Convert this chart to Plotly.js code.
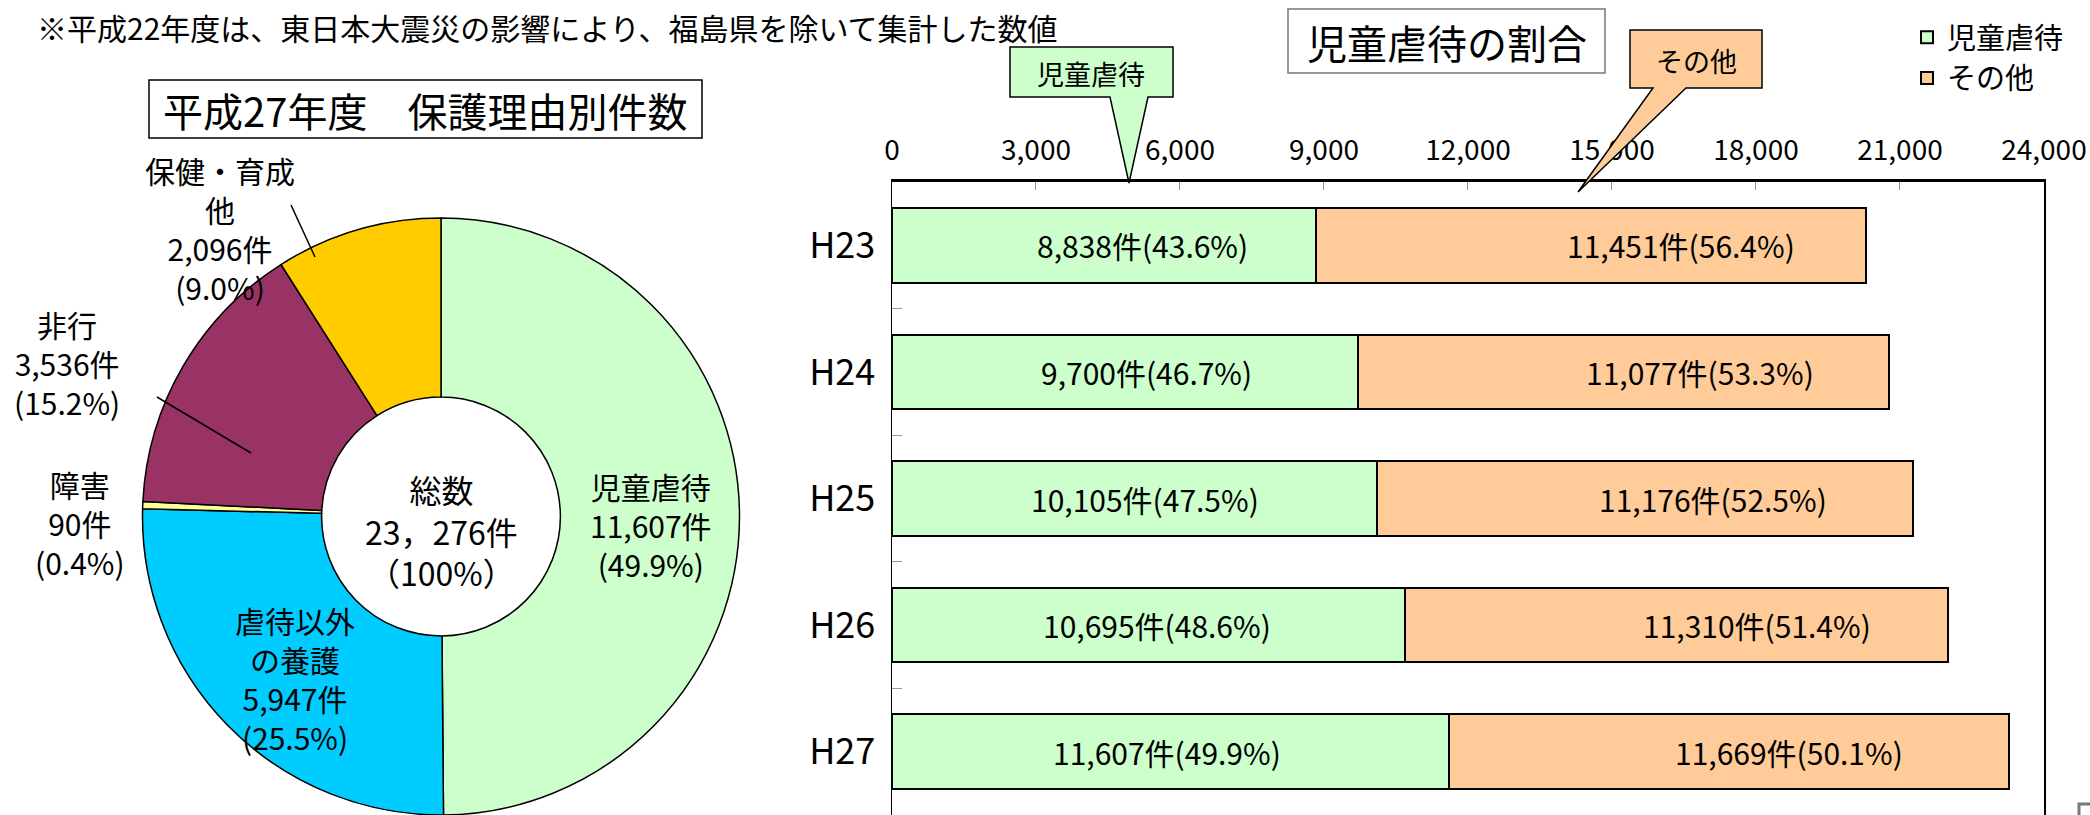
<!DOCTYPE html>
<html><head><meta charset="utf-8">
<script src="https://cdn.plot.ly/plotly-3.0.1.min.js"></script>
<style>html,body{margin:0;padding:0;background:#fff}#chart{width:2090px;height:815px}</style>
</head><body><div id="chart"></div>
<script>
// ---- data ----
const pieCategories = ['児童虐待', '虐待以外の養護', '障害', '非行', '保健・育成他'];
const pieDisplay = ['児童虐待', '虐待以外<br>の養護', '障害', '非行', '保健・育成<br>他'];
const pieValues = [11607, 5947, 90, 3536, 2096];
const piePercents = [49.9, 25.5, 0.4, 15.2, 9.0];
const pieTotal = '23，276件';
const pieTotalPct = '（100%）';

const years = ['H23', 'H24', 'H25', 'H26', 'H27'];
const abuseCounts = [8838, 9700, 10105, 10695, 11607];
const otherCounts = [11451, 11077, 11176, 11310, 11669];
const abusePercents = [43.6, 46.7, 47.5, 48.6, 49.9];
const otherPercents = [56.4, 53.3, 52.5, 51.4, 50.1];
const seriesNames = ['児童虐待', 'その他'];
const xTicks = [0, 3000, 6000, 9000, 12000, 15000, 18000, 21000, 24000];
const xTickLabels = ['0', '3,000', '6,000', '9,000', '12,000', '15,000', '18,000', '21,000', '24,000'];

// ---- styling ----
const W = 2090, H = 815;
const px = x => x / W;
const py = y => 1 - y / H;
const CJK = '"Noto Sans CJK JP", sans-serif';
const NARROW = '"Liberation Sans Narrow", "Arial Narrow", "Noto Sans CJK JP", sans-serif';
const pieColors = ['#CCFFCC', '#00CCFF', '#FFFF99', '#993366', '#FFCC00'];
const barColors = ['#CCFFCC', '#FFCC99'];
const pieLabelPos = [[651, 525], [295, 678], [80, 523], [67, 363], [220, 229]];
const abuseShift = [803, 456, 226, 180, -81];
const otherShift = [1881, 1595, 1418, 1678, 1253];

const fmt = v => v.toLocaleString('en-US');

const traces = [
  {
    type: 'pie', labels: pieCategories, values: pieValues, sort: false,
    direction: 'clockwise', rotation: 0, hole: 0.4, textinfo: 'none',
    marker: {colors: pieColors, line: {color: '#000', width: 1.5}},
    domain: {x: [px(142), px(740)], y: [0, py(218)]}, showlegend: false, hoverinfo: 'none'
  },
  {
    type: 'bar', orientation: 'h', name: seriesNames[0], y: years, x: abuseCounts, legendgroup: 'a',
    marker: {color: barColors[0], line: {color: '#000', width: 2}}, xaxis: 'x', yaxis: 'y'
  },
  {
    type: 'bar', orientation: 'h', name: seriesNames[1], y: years, x: otherCounts, legendgroup: 'b',
    marker: {color: barColors[1], line: {color: '#000', width: 2}}, xaxis: 'x', yaxis: 'y'
  }
];

const annotations = [];
// pie labels
pieCategories.forEach((c, i) => {
  annotations.push({
    xref: 'paper', yref: 'paper', x: px(pieLabelPos[i][0]), y: py(pieLabelPos[i][1]),
    xanchor: 'center', yanchor: 'middle', showarrow: false, align: 'center',
    text: pieDisplay[i] + '<br>' + fmt(pieValues[i]) + '件<br>(' + piePercents[i].toFixed(1) + '%)',
    font: {family: NARROW, size: 30, color: '#000'}
  });
});
// donut centre
annotations.push({
  xref: 'paper', yref: 'paper', x: px(441), y: py(530), xanchor: 'center', yanchor: 'middle',
  showarrow: false, align: 'center', text: '総数<br>' + pieTotal + '<br>' + pieTotalPct,
  font: {family: CJK, size: 32, color: '#000'}
});
// bar labels
years.forEach((yr, i) => {
  annotations.push({
    xref: 'x', yref: 'y', x: abuseCounts[i] / 2 + abuseShift[i], y: yr, showarrow: false,
    text: fmt(abuseCounts[i]) + '件(' + abusePercents[i].toFixed(1) + '%)',
    font: {family: NARROW, size: 30, color: '#000'}
  });
  annotations.push({
    xref: 'x', yref: 'y', x: abuseCounts[i] + otherCounts[i] / 2 + otherShift[i], y: yr, showarrow: false,
    text: fmt(otherCounts[i]) + '件(' + otherPercents[i].toFixed(1) + '%)',
    font: {family: NARROW, size: 30, color: '#000'}
  });
});
// titles and notes
annotations.push({xref: 'paper', yref: 'paper', x: px(35), y: py(27), xanchor: 'left', yanchor: 'middle',
  showarrow: false, text: '※平成22年度は、東日本大震災の影響により、福島県を除いて集計した数値',
  font: {family: CJK, size: 30, color: '#000'}});
annotations.push({xref: 'paper', yref: 'paper', x: px(425), y: py(110), xanchor: 'center', yanchor: 'middle',
  showarrow: false, text: '平成27年度　保護理由別件数', font: {family: CJK, size: 40, color: '#000'}});
annotations.push({xref: 'paper', yref: 'paper', x: px(1447), y: py(42), xanchor: 'center', yanchor: 'middle',
  showarrow: false, text: '児童虐待の割合', font: {family: CJK, size: 40, color: '#000'}});
annotations.push({xref: 'paper', yref: 'paper', x: px(1091), y: py(73), xanchor: 'center', yanchor: 'middle',
  showarrow: false, text: seriesNames[0], font: {family: CJK, size: 27, color: '#000'}});
annotations.push({xref: 'paper', yref: 'paper', x: px(1696), y: py(60), xanchor: 'center', yanchor: 'middle',
  showarrow: false, text: seriesNames[1], font: {family: CJK, size: 27, color: '#000'}});

const path = pts => 'M' + pts.map(p => px(p[0]) + ',' + py(p[1])).join(' L') + ' Z';
const shapes = [
  {type: 'rect', xref: 'paper', yref: 'paper', x0: px(149), x1: px(702), y0: py(80), y1: py(138),
   line: {color: '#000', width: 1.5}, fillcolor: '#fff', layer: 'below'},
  {type: 'rect', xref: 'paper', yref: 'paper', x0: px(1288), x1: px(1605), y0: py(9), y1: py(73),
   line: {color: '#777', width: 1.5}, fillcolor: '#fff', layer: 'below'},
  {type: 'path', xref: 'paper', yref: 'paper',
   path: path([[1010, 47], [1173, 47], [1173, 97], [1148, 97], [1129, 183], [1110, 97], [1010, 97]]),
   line: {color: '#000', width: 1.5}, fillcolor: '#CCFFCC'},
  {type: 'path', xref: 'paper', yref: 'paper',
   path: path([[1630, 30], [1762, 30], [1762, 88], [1686, 88], [1578, 192], [1653, 88], [1630, 88]]),
   line: {color: '#000', width: 1.5}, fillcolor: '#FFCC99'},
  {type: 'line', xref: 'paper', yref: 'paper', x0: px(291), y0: py(205), x1: px(315), y1: py(257),
   line: {color: '#000', width: 1.5}},
  {type: 'line', xref: 'paper', yref: 'paper', x0: px(157), y0: py(397), x1: px(251), y1: py(453),
   line: {color: '#000', width: 1.5}},
  {type: 'rect', xref: 'paper', yref: 'paper', x0: px(2079), x1: px(2095), y0: py(804), y1: py(822),
   line: {color: '#777', width: 3}, fillcolor: 'rgba(0,0,0,0)'}
];

const layout = {
  width: W, height: H, margin: {l: 0, r: 0, t: 0, b: 0},
  paper_bgcolor: '#fff', plot_bgcolor: '#fff',
  barmode: 'stack', bargap: 0.41,
  xaxis: {domain: [px(892), px(2044)], range: [0, 24001], tickmode: 'array', tickvals: xTicks, ticktext: xTickLabels,
    side: 'top', showgrid: false, zeroline: false, showline: true, linecolor: '#000', linewidth: 3,
    ticks: 'inside', ticklen: 8, tickcolor: '#999', ticklabelstandoff: 8, ticklabeloverflow: 'allow',
    tickfont: {family: NARROW, size: 28, color: '#000'}, fixedrange: true},
  yaxis: {domain: [0, py(182)], autorange: false, range: [4.5, -0.5], type: 'category',
    showgrid: false, zeroline: false, showline: true, mirror: true, linecolor: '#000', linewidth: 1.5,
    ticks: 'inside', tickson: 'boundaries', ticklen: 10, tickcolor: '#999', ticklabelstandoff: 8,
    tickfont: {family: NARROW, size: 36, color: '#000'}, fixedrange: true},
  showlegend: true,
  legend: {x: px(1907), y: py(12), xanchor: 'left', yanchor: 'top', traceorder: 'normal', tracegroupgap: 8,
    bgcolor: 'rgba(0,0,0,0)', font: {family: CJK, size: 29, color: '#000'}, itemwidth: 30},
  annotations: annotations, shapes: shapes
};

Plotly.newPlot('chart', traces, layout, {displayModeBar: false, staticPlot: true});
</script></body></html>
